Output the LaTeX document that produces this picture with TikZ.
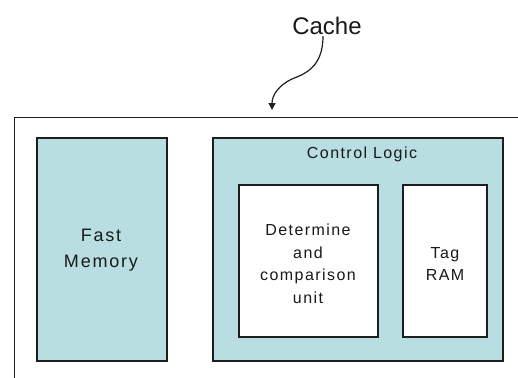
\documentclass[tikz,border=0pt]{standalone}
\usepackage{fontspec}
\setmainfont{Liberation Sans}
\newfontfamily\spacedfont[LetterSpace=9]{Liberation Sans}
\newfontfamily\widefont[LetterSpace=10]{Liberation Sans}
\usetikzlibrary{arrows.meta}
\definecolor{boxblue}{RGB}{184,222,225}
\definecolor{edge}{RGB}{30,30,30}
\tikzset{
  bluebox/.style={draw=edge, line width=1.4pt, fill=boxblue, inner sep=0pt},
  whitebox/.style={draw=edge, line width=1.4pt, fill=white, inner sep=0pt},
  txt/.style={font=\spacedfont\fontsize{16}{22.5}\selectfont, align=center, text=black!90},
}
\begin{document}
\begin{tikzpicture}[x=1pt,y=-1pt]
\useasboundingbox (0,0) rectangle (518,377);
\clip (0,0) rectangle (518,377);
\fill[white] (0,0) rectangle (518,377);
% outer cache box (extends beyond the picture)
\node[draw=edge, line width=1.2pt, minimum width=540pt, minimum height=300pt, inner sep=0pt, anchor=north west] (outer) at (14,117) {};
% fast memory
\node[bluebox, minimum width=130pt, minimum height=223pt] (fast) at (102,249.5) {};
\node[txt, font=\widefont\fontsize{18}{26}\selectfont] (fasttext) at (101,250) {Fast\\Memory};
% control logic
\node[bluebox, minimum width=290pt, minimum height=223pt] (ctrl) at (358,249.5) {};
\node[txt] (ctrltext) at (362,154) {Control Logic};
\node[whitebox, minimum width=139pt, minimum height=152pt] (det) at (308.5,261) {};
\node[txt] (dettext) at (308,264) {Determine\\and\\comparison\\unit};
\node[whitebox, minimum width=84pt, minimum height=152pt] (tag) at (445,261) {};
\node[txt] (tagtext) at (445,264) {Tag\\RAM};
% cache label and arrow
\node[font=\fontsize{24}{26}\selectfont, text=black!90, inner sep=1pt] (cache) at (327,26) {Cache};
\coordinate (tip) at (272,110);
\draw[line width=1.2pt, edge, -{Triangle[length=7pt,width=7pt]}]
  ([xshift=-4pt]cache.south) .. controls (323,68) and (304,74) .. (292,79)
  .. controls (279,85) and (272,95) .. (tip);
\end{tikzpicture}
\end{document}
